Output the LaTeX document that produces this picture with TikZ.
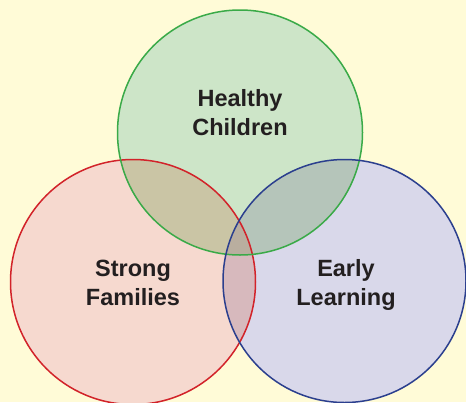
\documentclass[tikz,border=0pt]{standalone}
\usepackage{fontspec}
\setmainfont{Liberation Sans}
\definecolor{bgc}{HTML}{FFFBD7}
\definecolor{gfill}{HTML}{CDE5C8}
\definecolor{rfill}{HTML}{F6D9CF}
\definecolor{bfill}{HTML}{D9D8EA}
\definecolor{rgfill}{HTML}{CAC5A5}
\definecolor{gbfill}{HTML}{B5C5BA}
\definecolor{rbfill}{HTML}{D7B9BD}
\definecolor{allfill}{HTML}{B9AE9F}
\definecolor{gline}{HTML}{3AAA48}
\definecolor{rline}{HTML}{D2232A}
\definecolor{bline}{HTML}{2B3F8E}
\definecolor{txt}{HTML}{231F20}
\begin{document}
\begin{tikzpicture}[x=1pt,y=-1pt,
  lbl/.style={font=\fontsize{23.5}{29}\selectfont\bfseries, text=txt, align=center, inner sep=0pt},
  ring/.style={line width=1.5pt}]
\useasboundingbox (0,0) rectangle (466,402);
\fill[bgc] (0,0) rectangle (466,402);
\coordinate (G) at (240,132.5);
\coordinate (R) at (133,282);
\coordinate (B) at (344.5,281);
\begin{scope}
\clip (0,0) rectangle (466,402);
\fill[gfill] (G) circle[radius=122.5];
\fill[rfill] (R) circle[radius=122.5];
\fill[bfill] (B) circle[radius=121.5];
\begin{scope}
\clip (G) circle[radius=122.5];
\fill[rgfill] (R) circle[radius=122.5];
\fill[gbfill] (B) circle[radius=121.5];
\end{scope}
\begin{scope}
\clip (R) circle[radius=122.5];
\fill[rbfill] (B) circle[radius=121.5];
\clip (G) circle[radius=122.5];
\fill[allfill] (B) circle[radius=121.5];
\end{scope}
\draw[ring, rline] (R) circle[radius=122.5];
\draw[ring, gline] (G) circle[radius=122.5];
\draw[ring, bline] (B) circle[radius=121.5];
\end{scope}
\node[lbl] (h) at (240,113) {Healthy\\Children};
\node[lbl] (s) at (133,283) {Strong\\Families};
\node[lbl] (e) at (346,284.5) {Early\\Learning};
\end{tikzpicture}
\end{document}
